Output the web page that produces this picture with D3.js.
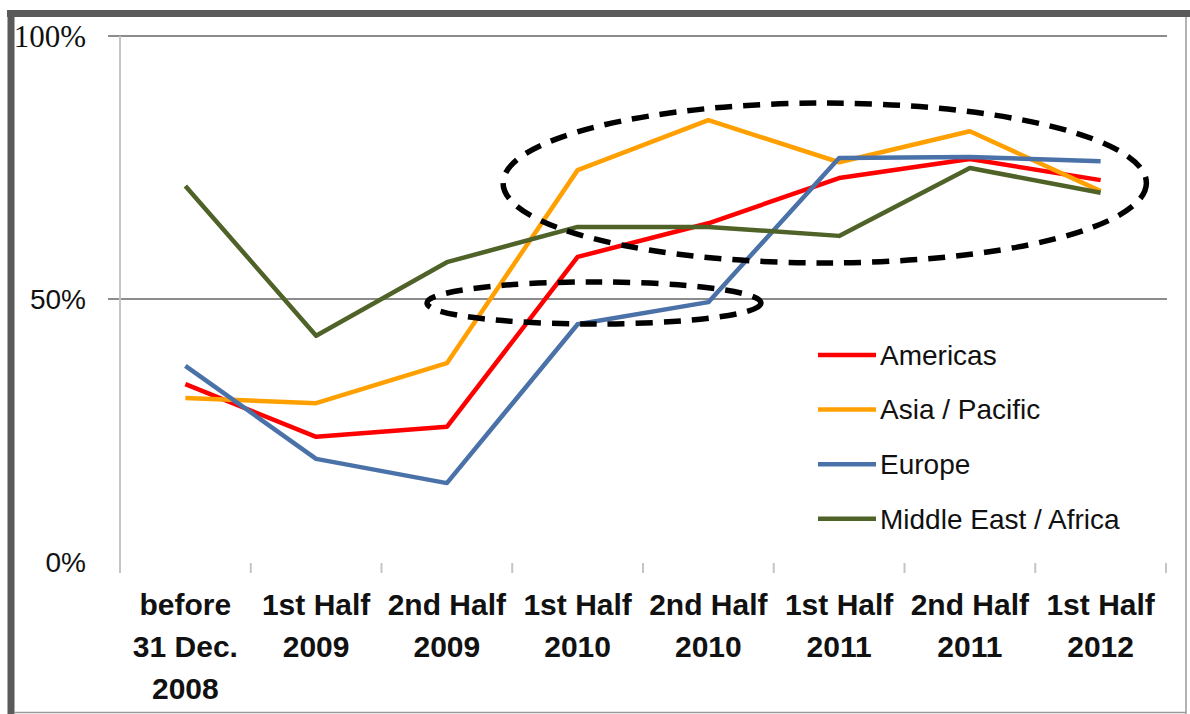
<!DOCTYPE html>
<html>
<head>
<meta charset="utf-8">
<script src="https://cdn.jsdelivr.net/npm/d3@7"></script>
<style>
  html, body { margin: 0; padding: 0; background: #fff; }
  text { font-family: "Liberation Sans", Arial, sans-serif; }
</style>
</head>
<body>
<div id="vizArea"></div>
<script>
// data
var categories = [
  ["before", "31 Dec.", "2008"],
  ["1st Half", "2009"],
  ["2nd Half", "2009"],
  ["1st Half", "2010"],
  ["2nd Half", "2010"],
  ["1st Half", "2011"],
  ["2nd Half", "2011"],
  ["1st Half", "2012"]
];
var seriesNames = ["Americas", "Asia / Pacific", "Europe", "Middle East / Africa"];
var seriesColors = ["#ff0000", "#ffa000", "#4a72a8", "#4f6228"];
var americas   = [0.338, 0.238, 0.257, 0.580, 0.644, 0.730, 0.766, 0.726];
var asiaPac    = [0.312, 0.302, 0.378, 0.745, 0.840, 0.760, 0.819, 0.705];
var europe     = [0.373, 0.196, 0.150, 0.452, 0.494, 0.768, 0.770, 0.762];
var middleEast = [0.715, 0.430, 0.570, 0.637, 0.637, 0.620, 0.749, 0.702];
var yTicks = [0, 0.5, 1];
var yTickLabels = ["0%", "50%", "100%"];
// dashed ovals (centre as category index / share, radii in the same units)
var ovalCx = [4.89, 3.125];
var ovalCy = [0.7205, 0.4924];
var ovalRx = [2.46, 1.277];
var ovalRy = [0.152, 0.040];

var series = [americas, asiaPac, europe, middleEast];

var W = 1190, H = 714;
var canvas = d3.select("#vizArea")
  .append("svg")
    .attr("width", W)
    .attr("height", H);

canvas.append("rect").attr("width", W).attr("height", H).attr("fill", "white");

// scales
var x = d3.scaleBand()
  .domain(d3.range(categories.length))
  .range([120, 1166])
  .padding(0);
var y = d3.scaleLinear().domain([0, 1]).range([562, 36]);
var xIdx = d3.scaleLinear()
  .domain([0, 1])
  .range([x(0) + x.bandwidth() / 2, x(1) + x.bandwidth() / 2]);

// gridlines (50% and 100%)
canvas.selectAll(".grid")
  .data(yTicks.filter(function (d) { return d > 0; }))
  .enter().append("line")
    .attr("x1", 108).attr("x2", 1167)
    .attr("y1", function (d) { return y(d); })
    .attr("y2", function (d) { return y(d); })
    .attr("stroke", "#8c8c8c")
    .attr("stroke-width", 2);

// y axis line
canvas.append("line")
  .attr("x1", 120).attr("x2", 120)
  .attr("y1", y(1)).attr("y2", 573)
  .attr("stroke", "#c4c4c4")
  .attr("stroke-width", 2);

// category ticks
canvas.selectAll(".xtick")
  .data(d3.range(categories.length))
  .enter().append("line")
    .attr("x1", function (d) { return x(d) + x.bandwidth(); })
    .attr("x2", function (d) { return x(d) + x.bandwidth(); })
    .attr("y1", 563).attr("y2", 573)
    .attr("stroke", "#c4c4c4")
    .attr("stroke-width", 2);

// y labels
canvas.selectAll(".ylab")
  .data(yTicks)
  .enter().append("text")
    .attr("x", 86)
    .attr("y", function (d) { return y(d); })
    .attr("dy", "0.35em")
    .attr("text-anchor", "end")
    .attr("fill", "#111")
    .style("font-size", function (d) { return d === 1 ? "31px" : "28px"; })
    .style("font-family", function (d) { return d === 1 ? "'Liberation Serif', 'Times New Roman', serif" : null; })
    .text(function (d, i) { return yTickLabels[i]; });

// x labels
var xl = canvas.selectAll(".xlab")
  .data(categories)
  .enter().append("text")
    .attr("text-anchor", "middle")
    .attr("fill", "#111")
    .style("font-size", "30px")
    .style("font-weight", "bold");
xl.selectAll("tspan")
  .data(function (d, i) { return d.map(function (t) { return {t: t, i: i}; }); })
  .enter().append("tspan")
    .attr("x", function (d) { return x(d.i) + x.bandwidth() / 2; })
    .attr("y", function (d, j) { return 615 + j * 42; })
    .text(function (d) { return d.t; });

// series lines
var line = d3.line()
  .x(function (d, i) { return x(i) + x.bandwidth() / 2; })
  .y(function (d) { return y(d); });

canvas.selectAll(".series")
  .data(series)
  .enter().append("path")
    .attr("d", line)
    .attr("fill", "none")
    .attr("stroke", function (d, i) { return seriesColors[i]; })
    .attr("stroke-width", 4.5)
    .attr("stroke-linejoin", "round");

// dashed ovals
canvas.selectAll(".oval")
  .data(ovalCx)
  .enter().append("ellipse")
    .attr("cx", function (d) { return xIdx(d); })
    .attr("cy", function (d, i) { return y(ovalCy[i]); })
    .attr("rx", function (d, i) { return xIdx(ovalRx[i]) - xIdx(0); })
    .attr("ry", function (d, i) { return y(0) - y(ovalRy[i]); })
    .attr("fill", "none")
    .attr("stroke", "#000")
    .attr("stroke-width", 5.5)
    .attr("stroke-dasharray", "17 11");

// legend
var legend = canvas.selectAll(".legend")
  .data(seriesNames)
  .enter().append("g")
    .attr("transform", function (d, i) { return "translate(818," + (355 + i * 54.6) + ")"; });
legend.append("line")
  .attr("x1", 0).attr("x2", 58)
  .attr("stroke", function (d, i) { return seriesColors[i]; })
  .attr("stroke-width", 4.5);
legend.append("text")
  .attr("x", 62)
  .attr("dy", "0.35em")
  .attr("fill", "#111")
  .style("font-size", "28px")
  .text(function (d) { return d; });

// SETUP BORDER
canvas.append("line").attr("x1", 7).attr("x2", W).attr("y1", 13.5).attr("y2", 13.5)
  .attr("stroke", "#5a5a5a").attr("stroke-width", 7);
canvas.append("line").attr("x1", 11).attr("x2", 11).attr("y1", 10).attr("y2", H)
  .attr("stroke", "#5a5a5a").attr("stroke-width", 7);
canvas.append("line").attr("x1", 1186).attr("x2", 1186).attr("y1", 17).attr("y2", H)
  .attr("stroke", "#9a9a9a").attr("stroke-width", 1.5);
canvas.append("line").attr("x1", 14).attr("x2", 1186).attr("y1", 712.5).attr("y2", 712.5)
  .attr("stroke", "#9a9a9a").attr("stroke-width", 1.5);
</script>
</body>
</html>
